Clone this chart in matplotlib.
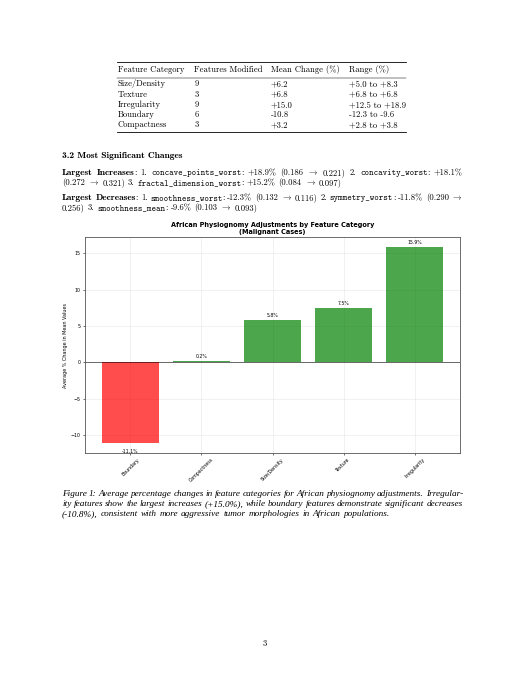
import matplotlib
matplotlib.use('Agg')
import matplotlib.pyplot as plt
from matplotlib.lines import Line2D

plt.rcParams['mathtext.fontset'] = 'cm'

W, H = 525, 680

# chart data
categories = ['Boundary', 'Compactness', 'Size/Density', 'Texture', 'Irregularity']
mean_change = [-11.1, 0.2, 5.8, 7.5, 15.9]

# table data
tab_header = ['Feature Category', 'Features Modified', 'Mean Change (%)', 'Range (%)']
tab_category = ['Size/Density', 'Texture', 'Irregularity', 'Boundary', 'Compactness']
tab_modified = ['9', '3', '9', '6', '3']
tab_mean = ['+6.2', '+6.8', '+15.0', '-10.8', '+3.2']
tab_range = ['+5.0 to +8.3', '+6.8 to +6.8', '+12.5 to +18.9', '-12.3 to -9.6', '+2.8 to +3.8']

ARROW = r'$\rightarrow$'

fig = plt.figure(figsize=(W / 100, H / 100), dpi=100)
renderer = fig.canvas.get_renderer()

FS = 6.2
RM = dict(family=['cmr10', 'DejaVu Serif'], size=FS)
BF = dict(family=['cmb10', 'DejaVu Serif'], size=6.8)
TT = dict(family=['cmtt10', 'DejaVu Sans Mono'], size=FS)
IT = dict(family=['Liberation Serif'], style='italic', size=6.7)


def put(x, y, s, st, **kw):
    return fig.text(x / W, 1 - y / H, s, va='baseline', **st, **kw)


def line(runs, x0, y, right=None):
    # lay out mixed-font words, optionally justified to `right`
    items = []
    for s, st in runs:
        for i, w in enumerate(s.split(' ')):
            if i > 0:
                items.append(None)
            if w:
                items.append((w.replace('->', ARROW), st))
    texts = [put(0, y, it[0], it[1]) for it in items if it is not None]
    widths = [t.get_window_extent(renderer).width for t in texts]
    nsp = items.count(None)
    sp = 0.333 * FS * 100 / 72
    if right is not None and nsp:
        sp = (right - x0 - sum(widths)) / nsp
    x, k = x0, 0
    for it in items:
        if it is None:
            x += sp
        else:
            texts[k].set_x(x / W)
            x += widths[k]
            k += 1


def hrule(y, x0, x1, lw):
    fig.add_artist(Line2D([x0 / W, x1 / W], [1 - y / H, 1 - y / H],
                          transform=fig.transFigure, color='black', lw=lw))


# ---- table ----
col_x = [118, 194.3, 271, 349.3]
hrule(62.3, 117, 406, 0.6)
for cx, s in zip(col_x, tab_header):
    put(cx, 72, s, RM)
hrule(77.7, 117, 406, 0.35)
for i in range(len(tab_category)):
    yb = 86.5 + i * 10.2
    row = [tab_category[i], tab_modified[i], tab_mean[i], tab_range[i]]
    for cx, s in zip(col_x, row):
        put(cx, yb, s, RM)
hrule(131.7, 117, 406, 0.6)

# ---- section text ----
put(62, 158, '3.2 Most Significant Changes', BF)
L, R = 62, 463
line([('Largest Increases', BF), (': 1. ', RM), ('concave_points_worst', TT),
      (': +18.9% (0.186 -> 0.221) 2. ', RM), ('concavity_worst', TT), (': +18.1%', RM)],
     L, 175, R)
line([('(0.272 -> 0.321) 3. ', RM), ('fractal_dimension_worst', TT),
      (': +15.2% (0.084 -> 0.097)', RM)], L, 185)
line([('Largest Decreases', BF), (': 1. ', RM), ('smoothness_worst', TT),
      (': -12.3% (0.132 -> 0.116) 2. ', RM), ('symmetry_worst', TT), (': -11.8% (0.290 ->', RM)],
     L, 200, R)
line([('0.256) 3. ', RM), ('smoothness_mean', TT), (': -9.6% (0.103 -> 0.093)', RM)], L, 210)

# ---- chart ----
ax = fig.add_axes([85 / W, 1 - 453 / H, 375 / W, 216 / H])
colors = ['red' if v < 0 else 'green' for v in mean_change]
bars = ax.bar(categories, mean_change, color=colors, alpha=0.7, width=0.8)
for b, v in zip(bars, mean_change):
    h = b.get_height()
    ax.text(b.get_x() + b.get_width() / 2, h + (0.3 if h > 0 else -0.75), f'{v:.1f}%',
            ha='center', va='bottom' if h > 0 else 'top', fontsize=3.3)
ax.axhline(0, color='black', lw=0.5, alpha=0.8)
ax.grid(True, alpha=0.3, lw=0.4)
ax.set_axisbelow(True)
ax.set_title('African Physiognomy Adjustments by Feature Category\n(Malignant Cases)',
             fontsize=4.7, fontweight='bold', pad=2.5, linespacing=1.05)
ax.set_ylabel('Average % Change in Mean Values', fontsize=3.5)
ax.yaxis.set_label_coords(-0.045, 0.5)
ax.tick_params(labelsize=3.4, length=1.5, width=0.4, pad=1.5)
plt.setp(ax.get_xticklabels(), rotation=45, ha='center')
for sp in ax.spines.values():
    sp.set_linewidth(0.6)
    sp.set_color('#555555')

# ---- caption ----
line([('Figure 1: Average percentage changes in feature categories for African '
       'physiognomy adjustments. Irregular-', IT)], L, 496, R)
line([('ity features show the largest increases (+15.0%), while boundary features '
       'demonstrate significant decreases', IT)], L, 506, R)
line([('(-10.8%), consistent with more aggressive tumor morphologies in African populations.', IT)],
     L, 516)

fig.text(265 / W, 1 - 646 / H, '3', ha='center', va='baseline', **RM)

fig.savefig('out.png', dpi=100)
